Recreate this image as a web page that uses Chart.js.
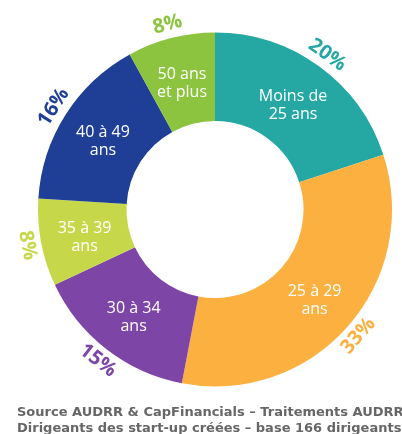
<!DOCTYPE html>
<html lang="fr">
<head>
<meta charset="utf-8">
<title>Âge des dirigeants</title>
<script src="https://cdn.jsdelivr.net/npm/chart.js@4.4.1/dist/chart.umd.min.js"></script>
<style>
  html, body { margin: 0; padding: 0; background: #fff; }
  #wrap { position: relative; width: 402px; height: 434px; overflow: hidden; }
  #source {
    position: absolute; left: 17px; top: 404px;
    font: bold 13px "DejaVu Sans", sans-serif; line-height: 16px;
    color: #666; white-space: nowrap;
  }
</style>
</head>
<body>
<div id="wrap">
  <canvas id="ages" width="402" height="434"></canvas>
  <div id="source">
    Source AUDRR &amp; CapFinancials – Traitements AUDRR<br>
    Dirigeants des start-up créées – base 166 dirigeants
  </div>
</div>
<script>
// tranches d'âge, dans l'ordre horaire depuis midi
const categories = ["Moins de 25 ans", "25 à 29 ans", "30 à 34 ans", "35 à 39 ans", "40 à 49 ans", "50 ans et plus"];
const innerLines = [["Moins de", "25 ans"], ["25 à 29", "ans"], ["30 à 34", "ans"], ["35 à 39", "ans"], ["40 à 49", "ans"], ["50 ans", "et plus"]];
const shares = [20, 33, 15, 8, 16, 8];
const colors = ["#25a8a3", "#fbb040", "#7d45a6", "#c6d84a", "#1f3f96", "#8cc43f"];

// textes blancs dans les anneaux + pourcentages courbés autour
const labelsPlugin = {
  id: "labelsAnneau",
  afterDatasetsDraw(chart) {
    const ctx = chart.ctx;
    const arcs = chart.getDatasetMeta(0).data;
    arcs.forEach((arc, i) => {
      const p = arc.getProps(["x", "y", "startAngle", "endAngle", "innerRadius", "outerRadius"], true);
      const a = (p.startAngle + p.endAngle) / 2;

      // nom de la tranche
      const rMid = (p.innerRadius + p.outerRadius) / 2;
      const tx = p.x + rMid * Math.cos(a);
      const ty = p.y + rMid * Math.sin(a) + 3;
      ctx.save();
      ctx.fillStyle = "#fff";
      ctx.font = "16px 'Open Sans', sans-serif";
      ctx.textAlign = "center";
      ctx.textBaseline = "middle";
      ctx.fillText(innerLines[i][0], tx, ty - 9);
      ctx.fillText(innerLines[i][1], tx, ty + 9);
      ctx.restore();

      // pourcentage à l'extérieur
      const rOut = p.outerRadius + 14;
      const px = p.x + rOut * Math.cos(a);
      const py = p.y + rOut * Math.sin(a);
      const rot = Math.sin(a) > 0 ? a - Math.PI / 2 : a + Math.PI / 2;
      ctx.save();
      ctx.translate(px, py);
      ctx.rotate(rot);
      ctx.fillStyle = colors[i];
      ctx.font = "bold 20px 'Open Sans', sans-serif";
      ctx.textAlign = "center";
      ctx.textBaseline = "middle";
      ctx.fillText(shares[i] + "%", 0, 0);
      ctx.restore();
    });
  },
};

new Chart(document.getElementById("ages"), {
  type: "doughnut",
  data: {
    labels: categories,
    datasets: [
      {
        data: shares,
        backgroundColor: colors,
        borderWidth: 0,
      },
    ],
  },
  options: {
    responsive: false,
    animation: false,
    cutout: "50%",
    layout: {
      padding: { left: 38, right: 10, top: 32, bottom: 47 },
    },
    plugins: {
      legend: { display: false },
      tooltip: { enabled: false },
    },
  },
  plugins: [labelsPlugin],
});
</script>
</body>
</html>
